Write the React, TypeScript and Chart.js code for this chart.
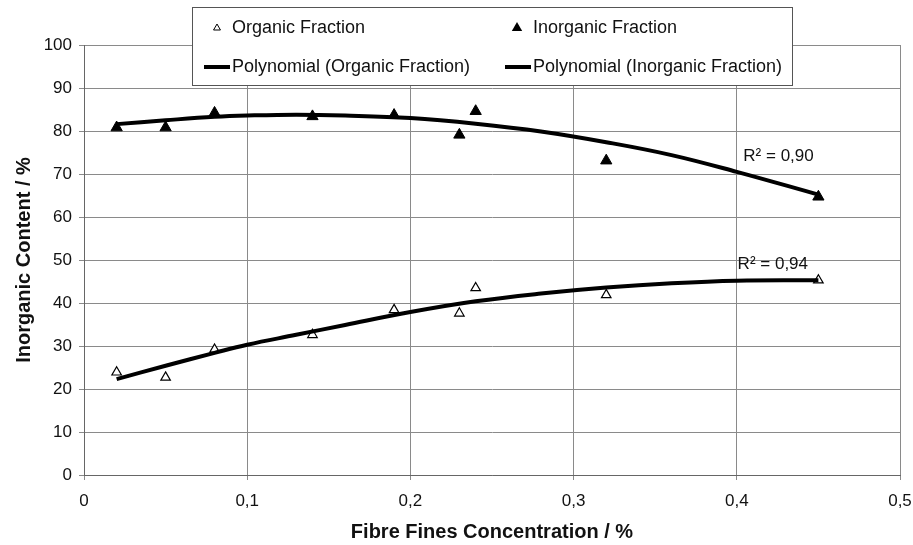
import React, { useEffect, useRef } from 'react';
import { Chart, registerables } from 'chart.js';

Chart.register(...registerables);

const FONT = '"Liberation Sans", Arial, Helvetica, sans-serif';

// Measured points
const fibreConc = [0.02, 0.05, 0.08, 0.14, 0.19, 0.23, 0.24, 0.32, 0.45];
const organicFraction = [23.9, 22.7, 29.2, 32.6, 38.4, 37.6, 43.5, 41.9, 45.3];
const inorganicFraction = [80.8, 80.8, 84.2, 83.4, 83.7, 79.1, 84.6, 73.1, 64.7];

// Polynomial trend lines
const trendX = [0.02, 0.05, 0.08, 0.1, 0.13, 0.16, 0.2, 0.24, 0.28, 0.32, 0.36, 0.4, 0.45];
const organicTrend = [22.3, 25.4, 28.4, 30.3, 32.6, 34.9, 37.9, 40.4, 42.2, 43.6, 44.6, 45.2, 45.3];
const inorganicTrend = [81.6, 82.5, 83.3, 83.6, 83.8, 83.6, 83.0, 81.7, 79.9, 77.4, 74.4, 70.5, 65.2];

const xTickLabels = ['0', '0,1', '0,2', '0,3', '0,4', '0,5'];
const legendLabels = ['Organic Fraction', 'Inorganic Fraction', 'Polynomial (Organic Fraction)', 'Polynomial (Inorganic Fraction)'];
const r2Labels = ['R² = 0,90', 'R² = 0,94'];
const r2Anchors = [
  { x: 0.404, y: 74.2 },
  { x: 0.4005, y: 49.0 },
];

function pts(xs: number[], ys: number[]) {
  return xs.map((x, i) => ({ x, y: ys[i] }));
}

function tri(c: CanvasRenderingContext2D, x: number, y: number, r: number, filled: boolean) {
  c.beginPath();
  c.moveTo(x, y - r);
  c.lineTo(x + r * 0.866, y + r * 0.5);
  c.lineTo(x - r * 0.866, y + r * 0.5);
  c.closePath();
  if (filled) {
    c.fillStyle = '#000';
    c.fill();
  } else {
    c.fillStyle = '#fff';
    c.fill();
    c.strokeStyle = '#000';
    c.lineWidth = 1;
    c.stroke();
  }
}

export default function App() {
  const ref = useRef<HTMLCanvasElement>(null);

  useEffect(() => {
    const canvas = ref.current;
    if (!canvas) return;

    const legendPlugin = {
      id: 'boxLegend',
      afterDraw(chart: any) {
        const c: CanvasRenderingContext2D = chart.ctx;
        c.save();
        c.fillStyle = '#fff';
        c.fillRect(192, 7, 600, 78);
        c.strokeStyle = '#555';
        c.lineWidth = 1;
        c.strokeRect(192.5, 7.5, 600, 78);

        c.font = `18px ${FONT}`;
        c.textBaseline = 'middle';
        c.textAlign = 'left';
        const row1 = 28;
        const row2 = 67;
        tri(c, 217, row1, 4, false);
        tri(c, 517, row1, 6, true);
        c.fillStyle = '#111';
        c.fillText(legendLabels[0], 232, row1);
        c.fillText(legendLabels[1], 533, row1);

        c.strokeStyle = '#000';
        c.lineWidth = 4;
        c.beginPath();
        c.moveTo(204, row2);
        c.lineTo(230, row2);
        c.moveTo(505, row2);
        c.lineTo(531, row2);
        c.stroke();
        c.fillStyle = '#111';
        c.fillText(legendLabels[2], 232, row2);
        c.fillText(legendLabels[3], 533, row2);
        c.restore();
      },
    };

    const r2Plugin = {
      id: 'r2Labels',
      afterDatasetsDraw(chart: any) {
        const c: CanvasRenderingContext2D = chart.ctx;
        const xs = chart.scales.x;
        const ys = chart.scales.y;
        c.save();
        c.font = `17px ${FONT}`;
        c.fillStyle = '#111';
        c.textAlign = 'left';
        c.textBaseline = 'middle';
        r2Labels.forEach((t, i) => {
          c.fillText(t, xs.getPixelForValue(r2Anchors[i].x), ys.getPixelForValue(r2Anchors[i].y));
        });
        c.restore();
      },
    };

    const chart = new Chart(canvas, {
      type: 'scatter',
      data: {
        datasets: [
          {
            label: legendLabels[2],
            data: pts(trendX, organicTrend),
            showLine: true,
            borderColor: '#000',
            borderWidth: 4,
            pointRadius: 0,
            tension: 0.4,
            order: 0,
          },
          {
            label: legendLabels[3],
            data: pts(trendX, inorganicTrend),
            showLine: true,
            borderColor: '#000',
            borderWidth: 4,
            pointRadius: 0,
            tension: 0.4,
            order: 0,
          },
          {
            label: legendLabels[0],
            data: pts(fibreConc, organicFraction),
            pointStyle: 'triangle',
            pointRadius: 5.5,
            borderWidth: 1.2,
            borderColor: '#000',
            backgroundColor: '#fff',
            order: 1,
          },
          {
            label: legendLabels[1],
            data: pts(fibreConc, inorganicFraction),
            pointStyle: 'triangle',
            pointRadius: 6.5,
            borderWidth: 1,
            borderColor: '#000',
            backgroundColor: '#000',
            order: 1,
          },
        ],
      },
      options: {
        responsive: false,
        animation: false,
        layout: { padding: { top: 45, right: 13, bottom: 0, left: 0 } },
        plugins: {
          legend: { display: false },
          tooltip: { enabled: false },
        },
        scales: {
          x: {
            type: 'linear',
            min: 0,
            max: 0.5,
            afterFit: (s: any) => {
              s.height = 70;
              s.paddingRight = 10;
              s.paddingLeft = 0;
            },
            ticks: {
              stepSize: 0.1,
              padding: 11,
              color: '#111',
              font: { family: FONT, size: 17 },
              callback: (_v: any, i: number) => xTickLabels[i],
            },
            grid: { color: '#8a8a8a', tickLength: 5, lineWidth: 1 },
            border: { color: '#666' },
            title: {
              display: true,
              text: 'Fibre Fines Concentration / %',
              color: '#111',
              font: { family: FONT, size: 20, weight: 'bold' },
              padding: { top: 0, bottom: 1 },
            },
          },
          y: {
            type: 'linear',
            min: 0,
            max: 100,
            afterFit: (s: any) => {
              s.width = 84;
            },
            ticks: {
              stepSize: 10,
              padding: 7,
              color: '#111',
              font: { family: FONT, size: 17 },
            },
            grid: { color: '#8a8a8a', tickLength: 5, lineWidth: 1 },
            border: { color: '#666' },
            title: {
              display: true,
              text: 'Inorganic Content / %',
              color: '#111',
              font: { family: FONT, size: 20, weight: 'bold' },
              padding: { top: 12, bottom: 0 },
            },
          },
        },
      },
      plugins: [r2Plugin, legendPlugin],
    } as any);

    return () => chart.destroy();
  }, []);

  return (
    <div style={{ position: 'absolute', left: 0, top: 0, width: 913, height: 545, background: '#fff' }}>
      <canvas ref={ref} width={913} height={545} style={{ display: 'block' }} />
    </div>
  );
}
